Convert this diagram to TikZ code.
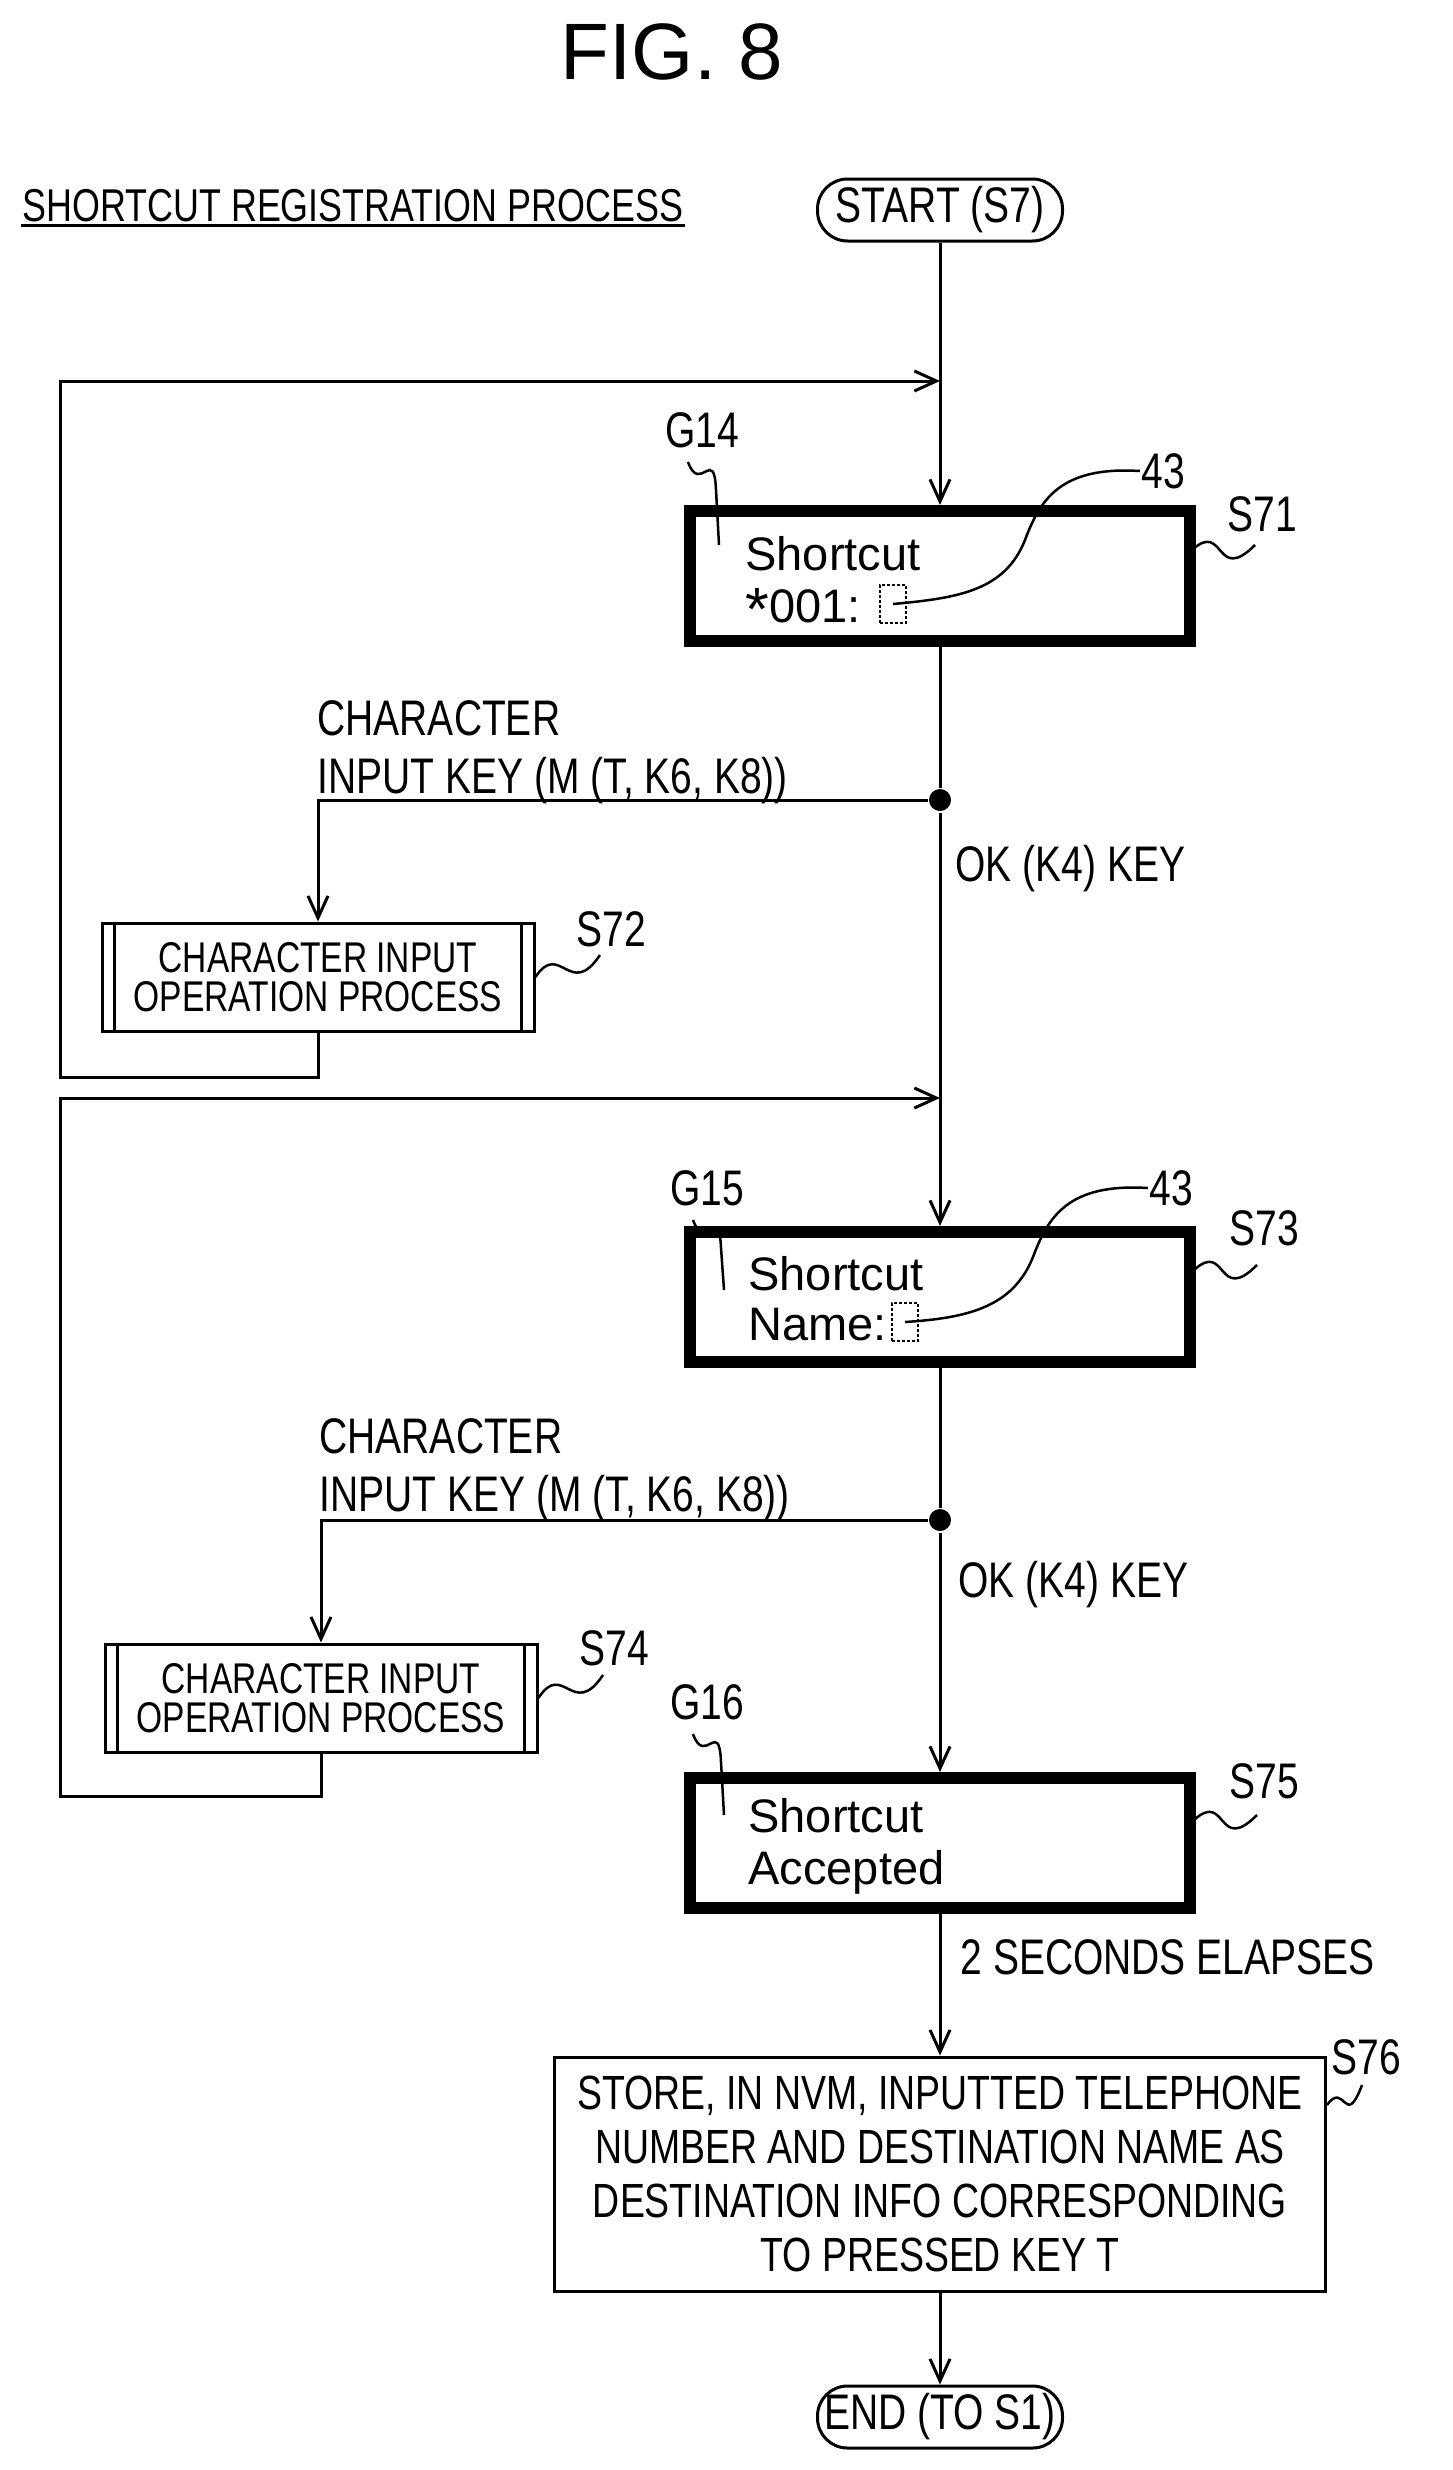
\documentclass[tikz,border=0pt]{standalone}
\usepackage{fontspec}
\setmainfont{Liberation Sans}
\newfontfamily\narrowf[FakeStretch=0.78]{Liberation Sans}
\usetikzlibrary{arrows.meta,calc}
\begin{document}
\begin{tikzpicture}[x=1pt,y=-1pt,
  line width=3pt,
  arr/.style={-{Straight Barb[length=22pt,width=20pt,line width=3pt]}},
  lbl/.style={font=\narrowf\fontsize{50}{58}\selectfont,inner sep=0pt},
  lcd/.style={font=\fontsize{47}{56}\selectfont,inner sep=0pt,anchor=base west},
  term/.style={draw,rounded corners=30pt,minimum width=245pt,minimum height=62pt,font=\narrowf\fontsize{50}{58}\selectfont,inner sep=0pt},
  screen/.style={draw,line width=12pt,minimum width=500pt,minimum height=130pt,inner sep=0pt},
  proc/.style={draw,minimum width=432pt,minimum height=108pt,inner sep=0pt,font=\narrowf\fontsize{43}{43}\selectfont,align=center},
  dot/.style={circle,fill,inner sep=0pt,minimum size=22pt},
  curs/.style={draw,densely dashed,line width=2.5pt,minimum width=26pt,minimum height=38pt,inner sep=0pt}
]
\useasboundingbox (0,0) rectangle (1452,2470);

\node[font=\fontsize{80}{90}\selectfont] (title) at (672,52) {FIG. 8};
\node[lbl,anchor=west,font=\narrowf\fontsize{46}{50}\selectfont] (head) at (21,206) {SHORTCUT REGISTRATION PROCESS};
\draw ([yshift=-2pt]head.south west) -- ([yshift=-2pt]head.south east);

\node[term] (start) at (940,210) {START (S7)};
\coordinate (j1) at (940,381);
\node[screen] (s71) at (940,576) {};
\node[dot] (d1) at (940,800) {};
\coordinate (j2) at (940,1098);
\node[screen] (s73) at (940,1297) {};
\node[dot] (d2) at (940,1520) {};
\node[screen] (s75) at (940,1843) {};
\node[draw,minimum width=771pt,minimum height=234pt,inner sep=0pt,align=center,font=\narrowf\fontsize{48}{54}\selectfont] (s76) at (940,2174)
  {STORE, IN NVM, INPUTTED TELEPHONE\\NUMBER AND DESTINATION NAME AS\\DESTINATION INFO CORRESPONDING\\TO PRESSED KEY T};
\node[term] (end) at (940,2417) {END (TO S1)};

\node[proc] (s72) at (318,977) {CHARACTER INPUT\\[-4pt]OPERATION PROCESS};
\node[proc] (s74) at (321,1698) {CHARACTER INPUT\\[-4pt]OPERATION PROCESS};
\foreach \n in {s72,s74}{
  \draw ([xshift=14pt]\n.north west) -- ([xshift=14pt]\n.south west);
  \draw ([xshift=-14pt]\n.north east) -- ([xshift=-14pt]\n.south east);
}

% main flow
\draw[arr] (start) -- (s71);
\draw (s71) -- (d1);
\draw[arr] (d1) -- (s73);
\draw (s73) -- (d2);
\draw[arr] (d2) -- (s75);
\draw[arr] (s75) -- (s76);
\draw[arr] (s76) -- (end);
% branches
\draw[arr] (d1) -| (s72.north);
\draw[arr] (s72.south) |- (60,1077) -- (60,381) -- (j1);
\draw[arr] (d2) -| (s74.north);
\draw[arr] (s74.south) |- (60,1796) -- (60,1098) -- (j2);

% edge labels
\node[lbl,anchor=west,align=left] (c1) at (316,752) {CHARACTER\\INPUT KEY (M (T, K6, K8))};
\node[lbl,anchor=west] (ok1) at (954,869) {OK (K4) KEY};
\node[lbl,anchor=west,align=left] (c2) at (318,1470) {CHARACTER\\INPUT KEY (M (T, K6, K8))};
\node[lbl,anchor=west] (ok2) at (957,1585) {OK (K4) KEY};
\node[lbl,anchor=west] (sec) at (959,1957) {2 SECONDS ELAPSES};

% screen texts
\node[lcd] (t71a) at (744,570) {Shortcut};
\node[lcd] (t71b) at (744,622) {\raisebox{-0.35ex}{\scalebox{1.3}{*}}001:};
\node[curs] (k71) at (893,604) {};
\node[lcd] (t73a) at (747,1290) {Shortcut};
\node[lcd] (t73b) at (747,1340) {Name:};
\node[curs] (k73) at (905,1322) {};
\node[lcd] (t75a) at (747,1832) {Shortcut};
\node[lcd] (t75b) at (747,1884) {Accepted};

% reference labels
\node[lbl] (g14) at (702,430) {G14};
\draw[line width=2.5pt] (688,462) .. controls (700,495) and (714,445) .. (716,490) -- (719,545);
\node[lbl] (n43a) at (1163,471) {43};
\draw[line width=2.5pt] (n43a.west) .. controls (1060,466) and (1040,500) .. (1025,540) .. controls (1005,590) and (960,598) .. (k71.center);
\node[lbl] (l71) at (1262,514) {S71};
\draw[line width=2.5pt] (1192,550) .. controls (1225,520) and (1215,585) .. (1255,545);

\node[lbl] (g15) at (707,1188) {G15};
\draw[line width=2.5pt] (693,1220) .. controls (705,1253) and (719,1203) .. (721,1248) -- (724,1290);
\node[lbl] (n43b) at (1171,1188) {43};
\draw[line width=2.5pt] (n43b.west) .. controls (1068,1183) and (1048,1217) .. (1033,1257) .. controls (1013,1307) and (968,1318) .. (k73.center);
\node[lbl] (l73) at (1264,1228) {S73};
\draw[line width=2.5pt] (1194,1270) .. controls (1227,1240) and (1217,1305) .. (1257,1265);

\node[lbl] (g16) at (707,1702) {G16};
\draw[line width=2.5pt] (693,1734) .. controls (705,1767) and (719,1717) .. (721,1762) -- (724,1815);
\node[lbl] (l75) at (1264,1781) {S75};
\draw[line width=2.5pt] (1194,1820) .. controls (1227,1790) and (1217,1855) .. (1257,1815);

\node[lbl] (l72) at (611,929) {S72};
\draw[line width=2.5pt] (s72.east) .. controls (560,940) and (570,1000) .. (600,955);
\node[lbl] (l74) at (614,1648) {S74};
\draw[line width=2.5pt] (s74.east) .. controls (563,1660) and (573,1720) .. (603,1675);
\node[lbl] (l76) at (1366,2057) {S76};
\draw[line width=2.5pt] (1327,2105) .. controls (1345,2080) and (1345,2130) .. (1362,2085);
\end{tikzpicture}
\end{document}
